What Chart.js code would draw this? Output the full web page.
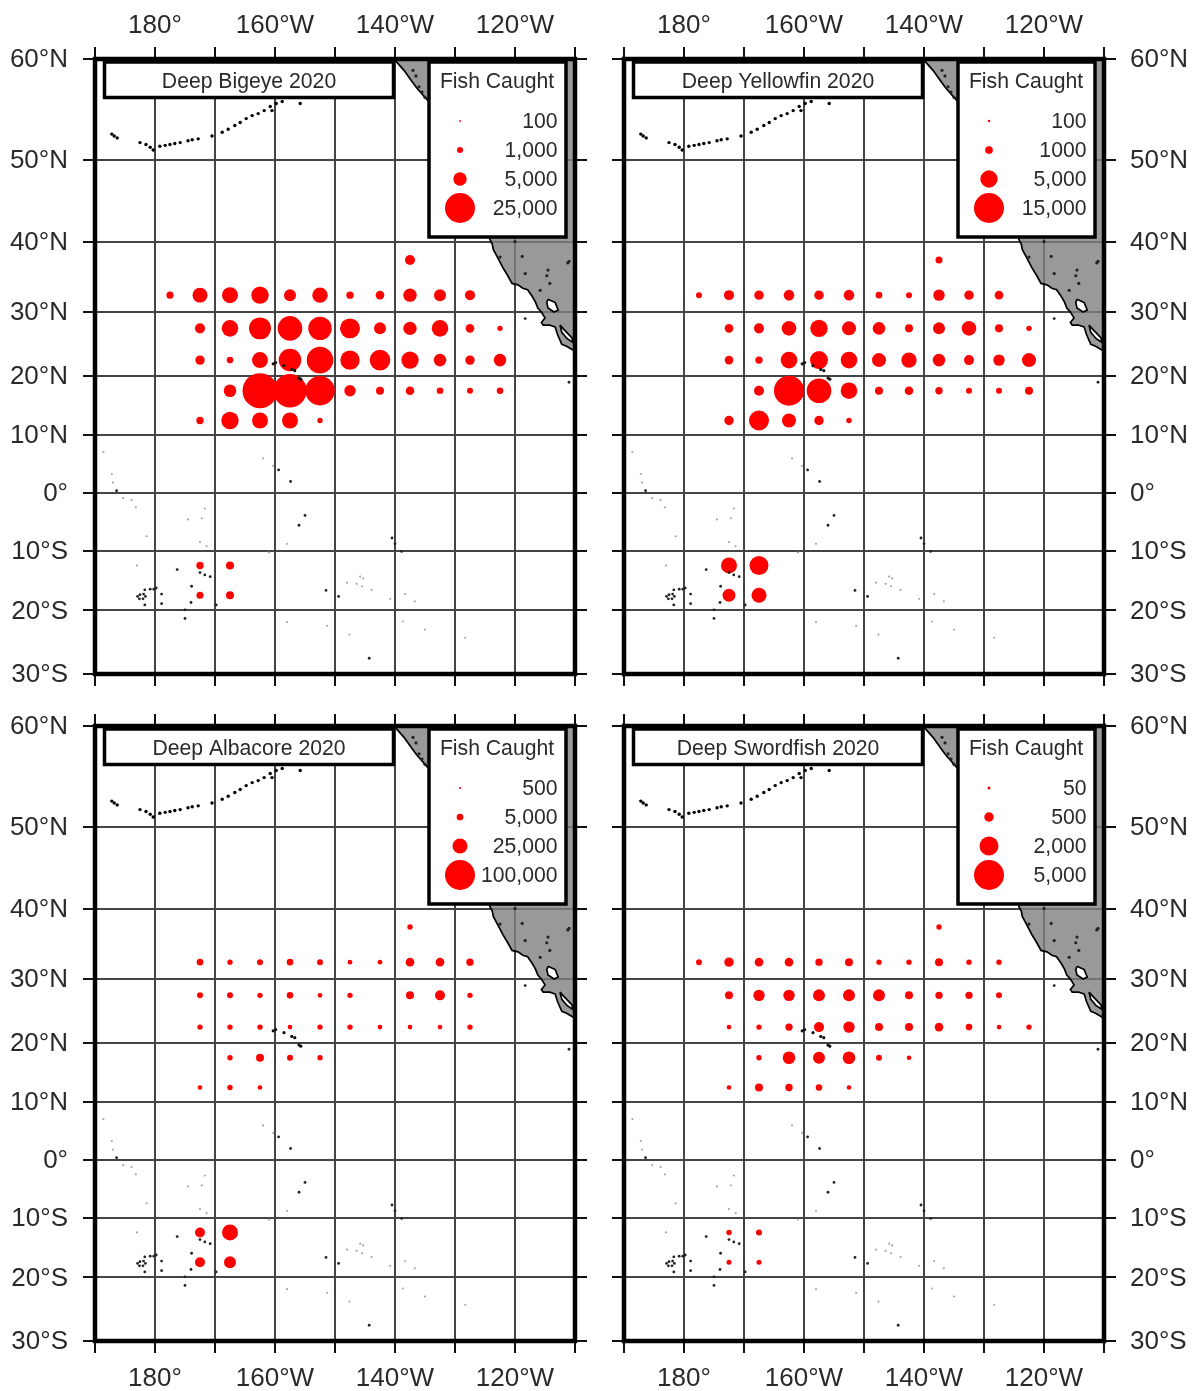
<!DOCTYPE html>
<html><head><meta charset="utf-8">
<style>
html,body{margin:0;padding:0;background:#fff;width:1197px;height:1391px;overflow:hidden}
.p{position:absolute;display:block;filter:blur(0.7px)}
</style>
<script src="https://cdn.jsdelivr.net/npm/chart.js@4"></script>
</head><body>
<script>
const lonTicks=[-190,-180,-170,-160,-150,-140,-130,-120,-110];
const lonLabels=['','180°','','160°W','','140°W','','120°W',''];
const latTicks=[60,50,40,30,20,10,0,-10,-20,-30];
const latLabels=['60°N','50°N','40°N','30°N','20°N','10°N','0°','10°S','20°S','30°S'];
const cellLons=[-177.5,-172.5,-167.5,-162.5,-157.5,-152.5,-147.5,-142.5,-137.5,-132.5,-127.5,-122.5];
const cellLats=[37.5,32.5,27.5,22.5,17.5,12.5,-12.5,-17.5];
const _=null;
const bigeyeCatch=[
[_,_,_,_,_,_,_,_,2800,_,_,_],
[1400,6200,7100,8400,4000,6600,1500,2050,5000,4000,2800,_],
[_,2800,7600,13400,16800,15200,11100,4000,5000,7600,2050,800],
[_,2450,1200,7100,14200,19600,10400,11800,8400,4400,2450,4400],
[_,_,4400,34000,31000,24000,3600,1800,2050,1200,1000,1200],
[_,1500,8400,7100,7100,800,_,_,_,_,_,_],
[_,1500,1800,_,_,_,_,_,_,_,_,_],
[_,1400,1800,_,_,_,_,_,_,_,_,_]];
const yellowfinCatch=[
[_,_,_,_,_,_,_,_,820,_,_,_],
[600,1670,1470,1870,1470,1870,730,600,2170,1470,1230,_],
[_,1230,1670,3550,5050,3270,2650,1070,2400,3550,1070,490],
[_,1230,910,4600,5400,4600,3270,3950,2650,1670,2170,3270],
[_,_,1670,15000,10100,4600,1070,1230,910,600,600,1070],
[_,1470,6670,3270,1470,490,_,_,_,_,_,_],
[_,4270,6000,_,_,_,_,_,_,_,_,_],
[_,2800,3750,_,_,_,_,_,_,_,_,_]];
const albacoreCatch=[
[_,_,_,_,_,_,_,_,3200,_,_,_],
[_,4800,3200,4000,4800,4000,2400,2400,8200,8200,6000,_],
[_,4000,4000,3200,4800,2400,3200,_,7100,11100,3200,_],
[_,3200,3200,3200,2400,3200,3200,2400,2400,2400,3200,_],
[_,_,3200,7100,4000,3200,_,_,_,_,_,_],
[_,2400,3200,2400,_,_,_,_,_,_,_,_],
[_,11100,28400,_,_,_,_,_,_,_,_,_],
[_,11100,16000,_,_,_,_,_,_,_,_,_]];
const swordfishCatch=[
[_,_,_,_,_,_,_,_,160,_,_,_],
[200,490,410,410,300,355,160,160,355,160,160,_],
[_,355,720,720,800,800,800,355,300,300,200,_],
[_,120,160,300,555,720,355,355,410,240,120,160],
[_,_,160,880,800,880,200,120,_,_,_,_],
[_,120,355,300,240,120,_,_,_,_,_,_],
[_,160,200,_,_,_,_,_,_,_,_,_],
[_,140,140,_,_,_,_,_,_,_,_,_]];
const panelTitles=['Deep Bigeye 2020','Deep Yellowfin 2020','Deep Albacore 2020','Deep Swordfish 2020'];
const legendLabels=[['100','1,000','5,000','25,000'],['100','1000','5,000','15,000'],['500','5,000','25,000','100,000'],['50','500','2,000','5,000']];
const legendValues=[[100,1000,5000,25000],[100,1000,5000,15000],[500,5000,25000,100000],[50,500,2000,5000]];
const landCoast=[[-141,60.5],[-140,59.9],[-138.5,59],[-137.2,58],[-136.4,57.4],[-134.7,56.3],[-131,54],[-128,50],[-125,44],[-124.2,40.3],[-123.8,39.7],[-123.6,38.9],[-123,38],[-122.5,37.2],[-122,36.4],[-121.2,35.3],[-120.5,34.2],[-119.5,34],[-118.7,33.5],[-117.9,33.3],[-117.2,32.4],[-116.6,31.5],[-116.2,30.6],[-115.6,30],[-115,29.1],[-115.6,28.4],[-115.3,28],[-114.2,28],[-113.3,27.7],[-112.9,26.5],[-112.2,25],[-111.4,24.7],[-110.5,24.2],[-109,23],[-105,23],[-105,62],[-141,62]];
const gulfNorth=[[-114.5,31.9],[-113.3,31.4],[-112.8,30.3],[-113.5,30],[-114.5,30.6],[-114.7,31.4],[-114.5,31.9]];
const gulfSouth=[[-112.5,28],[-111.7,27.2],[-110.5,26],[-110.3,25.3],[-111.3,25.9],[-112.2,26.9],[-112.5,28]];
const inlandDots=[[-114.5,36.1],[-111.2,37.1],[-115.8,33.2],[-118.3,35.6],[-122.5,37.9],[-114.2,34.2],[-120,40],[-118.8,38],[-114.7,35.3],[-111,37.3],[-136.5,58.5],[-136,57.5],[-135.5,57],[-135,56.5],[-137,59]];
const aleutians=[[-187.2,52.8],[-186.8,52.6],[-186.3,52.4],[-182.5,51.9],[-181.5,51.7],[-180.8,51.4],[-180.3,51.1],[-179.2,51.5],[-178.3,51.6],[-177.5,51.7],[-176.7,51.8],[-175.8,51.9],[-174.5,52.1],[-173.8,52.2],[-172.8,52.3],[-170.5,52.6],[-168.8,53],[-167.8,53.3],[-166.7,53.7],[-165.8,54],[-164.8,54.4],[-163.8,54.7],[-162.8,54.9],[-161.8,55.2],[-160.8,55.6],[-159.8,55.9],[-158.8,56.1],[-160.5,55.2],[-155.8,55.9]];
const hawaii=[[-160.3,21.9],[-159.9,22.1],[-158.5,21.6],[-157.2,21],[-156.7,20.8],[-156,19.6],[-155.7,19.4]];
const islandsDark=[[-186.4,0.4],[-159.4,4],[-157.4,2],[-155,-3.9],[-156,-5.6],[-140.5,-7.8],[-140,-8.8],[-138.9,-10.1],[-176.3,-13.2],[-172.5,-13.7],[-171.7,-14.1],[-170.8,-14.4],[-173.9,-16],[-174,-18.7],[-175,-19.9],[-175,-21.3],[-169.8,-19.1],[-180.8,-16.5],[-180.2,-16.5],[-179.8,-16.3],[-181.7,-16.6],[-182.5,-17.4],[-181.9,-17.3],[-181.6,-17.7],[-182,-18.1],[-182.6,-18.1],[-182.9,-17.7],[-181.7,-19.1],[-178.9,-17.3],[-178.9,-18.9],[-151.5,-16.7],[-149.4,-17.7],[-144.3,-27.6],[-111,18.9],[-118.3,29]];
const islandsFaint=[[-188.6,7.1],[-187.2,3.3],[-187,1.8],[-185.3,-0.9],[-183.9,-1.2],[-183.2,-2.5],[-171.7,-2.7],[-172.2,-4.4],[-174.5,-4.6],[-181.4,-7.5],[-172.5,-8.5],[-171.4,-9.2],[-183,-12.5],[-162,6],[-160.3,4.7],[-158,-8.8],[-161,-10.3],[-145.8,-14.4],[-145.3,-14.7],[-145.5,-16],[-143.9,-16.6],[-146.4,-15.6],[-148,-15.4],[-140.8,-18.1],[-138.3,-17.3],[-136.7,-18.5],[-138.7,-21.8],[-135,-23.1],[-128.3,-24.4],[-151.3,-22.5],[-147.6,-23.9],[-158,-21.9]];

const merc=lat=>Math.log(Math.tan(Math.PI/4+lat*Math.PI/360));
const FONT='"Liberation Sans", Arial, sans-serif';
const INK='#2a2a2a';
const LINE='#444444';
const TOP_RADIUS=15;
const ll=a=>a.map(p=>({x:p[0],y:merc(p[1])}));
const dotsSet=(a,c,r,o)=>({type:'scatter',data:ll(a),pointRadius:r,pointBackgroundColor:c,pointBorderWidth:0,order:o,xAxisID:'x',yAxisID:'y'});
const polySet=(a,fill,o)=>({type:'line',data:ll(a),fill:'shape',backgroundColor:fill,borderColor:'#000',borderWidth:1.7,pointRadius:0,tension:0,order:o,xAxisID:'x',yAxisID:'y'});

const decor={id:'decor',afterDatasetsDraw(ch,args,o){
  const c=ch.ctx,a=ch.chartArea,L=a.left,T=a.top;
  c.save();
  c.lineJoin='miter';
  c.strokeStyle='#000';
  c.lineWidth=4.5;
  c.strokeRect(L,T,a.right-L,a.bottom-T);
  c.lineWidth=3.5;
  c.fillStyle='#fff';
  c.fillRect(L+9.5,T+3,289,35.5);c.strokeRect(L+9.5,T+3,289,35.5);
  c.fillRect(L+334,T+3,137,175);c.strokeRect(L+334,T+3,137,175);
  c.fillStyle=INK;
  c.font='21.2px '+FONT;
  c.textBaseline='middle';
  c.textAlign='center';
  c.fillText(o.title,L+154,T+23);
  c.fillText('Fish Caught',L+402,T+23);
  c.textAlign='right';
  const top=o.values[3];
  o.labels.forEach((t,i)=>{
    const y=T+62+i*29;
    c.fillStyle=INK;
    c.fillText(t,L+462.5,y+1);
    c.fillStyle='#ff0000';
    c.beginPath();
    c.arc(L+365,y,TOP_RADIUS*Math.sqrt(o.values[i]/top),0,Math.PI*2);
    c.fill();
  });
  c.restore();
}};

function xScale(pos,show){return {type:'linear',axis:'x',position:pos,min:-190,max:-110,
  grid:{drawOnChartArea:pos==='bottom',color:LINE,lineWidth:2,tickLength:12,tickColor:'#111',tickWidth:2},
  border:{display:false},
  afterBuildTicks:s=>{s.ticks=lonTicks.map(v=>({value:v}));},
  ticks:{display:show,autoSkip:false,maxRotation:0,minRotation:0,padding:pos==='top'?6:10,color:INK,font:{family:FONT,size:26},callback:(v,i)=>lonLabels[i]}};}
function yScale(pos,show){return {type:'linear',axis:'y',position:pos,min:merc(-30),max:merc(60),
  grid:{drawOnChartArea:pos==='left',color:LINE,lineWidth:2,tickLength:12,tickColor:'#111',tickWidth:2},
  border:{display:false},
  afterBuildTicks:s=>{s.ticks=latTicks.map(v=>({value:merc(v)}));},
  ticks:{display:show,autoSkip:false,padding:pos==='left'?15:14,labelOffset:1,color:INK,font:{family:FONT,size:26},callback:(v,i)=>latLabels[i]}};}

function panel(idx,catchGrid,box){
  const cv=document.createElement('canvas');
  cv.className='p';cv.width=box.w;cv.height=box.h;
  cv.style.left=box.x+'px';cv.style.top=box.y+'px';cv.style.width=box.w+'px';cv.style.height=box.h+'px';
  document.body.appendChild(cv);
  const pts=[];
  catchGrid.forEach((row,r)=>row.forEach((v,c)=>{
    if(v!==null) pts.push({x:cellLons[c],y:merc(cellLats[r]),r:TOP_RADIUS*Math.sqrt(v/legendValues[idx][3])});
  }));
  const noPad=s=>{s.paddingTop=0;s.paddingBottom=0;s.paddingLeft=0;s.paddingRight=0;};
  const scales={
    x:xScale('bottom',box.row===1),
    x2:xScale('top',box.row===0),
    y:yScale('left',box.col===0),
    y2:yScale('right',box.col===1)
  };
  scales.x.afterFit=s=>{s.height=box.b;noPad(s);};
  scales.x2.afterFit=s=>{s.height=box.t;noPad(s);};
  scales.y.afterFit=s=>{s.width=box.l;noPad(s);};
  scales.y2.afterFit=s=>{s.width=box.r;noPad(s);};
  new Chart(cv,{type:'bubble',plugins:[decor],
    data:{datasets:[
      polySet(landCoast,'rgba(128,128,128,0.8)',9),
      polySet(gulfNorth,'#ffffff',8),
      polySet(gulfSouth,'#ffffff',8),
      dotsSet(inlandDots,'#222',1.6,7),
      dotsSet(islandsFaint,'#a8a8a8',1.1,6),
      {type:'bubble',data:pts,backgroundColor:'#ff0000',borderWidth:0,hoverRadius:0,order:5,xAxisID:'x',yAxisID:'y'},
      dotsSet(islandsDark,'#222',1.4,4),
      dotsSet(aleutians,'#000',1.7,3),
      dotsSet(hawaii,'#111',1.6,2)
    ]},
    options:{responsive:false,animation:false,devicePixelRatio:1,layout:{padding:0},
      events:[],
      plugins:{legend:{display:false},tooltip:{enabled:false},title:{display:false},
        decor:{title:panelTitles[idx],labels:legendLabels[idx],values:legendValues[idx]}},
      scales}
  });
}
panel(0,bigeyeCatch,{x:0,y:0,w:598,h:700,l:95,r:23,t:59,b:26,row:0,col:0});
panel(1,yellowfinCatch,{x:598,y:0,w:599,h:700,l:26,r:93,t:59,b:26,row:0,col:1});
panel(2,albacoreCatch,{x:0,y:700,w:598,h:691,l:95,r:23,t:26,b:50,row:1,col:0});
panel(3,swordfishCatch,{x:598,y:700,w:599,h:691,l:26,r:93,t:26,b:50,row:1,col:1});
</script>
</body></html>
